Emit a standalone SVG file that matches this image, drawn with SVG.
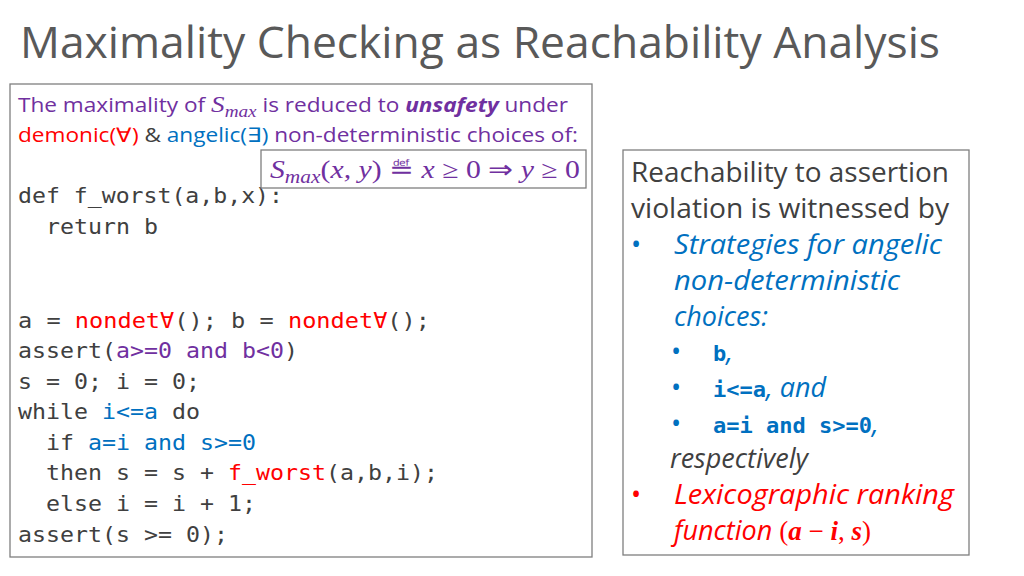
<svg xmlns="http://www.w3.org/2000/svg" width="1024" height="576" viewBox="0 0 1024 576">
<style>
.t{font-family:"Open Sans","Liberation Sans",sans-serif}
.m{font-family:"DejaVu Sans Mono","Liberation Mono",monospace;font-size:22px;fill:#404040}
.p{fill:#7030A0}.r{fill:#FF0000}.b{fill:#0070C0}.g{fill:#404040}
.box{fill:#fff;stroke:#7f7f7f;stroke-width:1.3}
.math{font-family:"Liberation Serif",serif;font-style:italic}
</style>
<rect width="1024" height="576" fill="#fff"/>
<text x="20" y="58" class="t" font-size="43" fill="#595959" textLength="920" lengthAdjust="spacingAndGlyphs">Maximality Checking as Reachability Analysis</text>
<g id="code-box">
<rect class="box" x="10" y="84" width="582" height="473"/>
<text class="t p" x="18" y="112" font-size="20" textLength="550" lengthAdjust="spacingAndGlyphs">The maximality of <tspan class="math" font-size="24">S<tspan font-size="17" dy="5">max</tspan></tspan><tspan dy="-5"> is reduced to </tspan><tspan font-weight="bold" font-style="italic">unsafety</tspan> under</text>
<text class="t" x="18" y="142" font-size="20" textLength="560" lengthAdjust="spacingAndGlyphs"><tspan class="r">demonic(∀)</tspan><tspan class="g"> &amp; </tspan><tspan class="b">angelic(∃)</tspan><tspan class="p"> non-deterministic choices of:</tspan></text>
<g class="m">
<text x="18" y="203" textLength="265" lengthAdjust="spacingAndGlyphs">def f_worst(a,b,x):</text>
<text x="46" y="234" textLength="112" lengthAdjust="spacingAndGlyphs">return b</text>
<text x="18" y="328" textLength="412" lengthAdjust="spacingAndGlyphs">a = <tspan class="r">nondet∀</tspan>(); b = <tspan class="r">nondet∀</tspan>();</text>
<text x="18" y="358" textLength="280" lengthAdjust="spacingAndGlyphs">assert(<tspan class="p">a&gt;=0 and b&lt;0</tspan>)</text>
<text x="18" y="389" textLength="182" lengthAdjust="spacingAndGlyphs">s = 0; i = 0;</text>
<text x="18" y="419" textLength="182" lengthAdjust="spacingAndGlyphs">while <tspan class="b">i&lt;=a</tspan> do</text>
<text x="46" y="450" textLength="210" lengthAdjust="spacingAndGlyphs">if <tspan class="b">a=i and s&gt;=0</tspan></text>
<text x="46" y="480" textLength="392" lengthAdjust="spacingAndGlyphs">then s = s + <tspan class="r">f_worst</tspan>(a,b,i);</text>
<text x="46" y="511" textLength="210" lengthAdjust="spacingAndGlyphs">else i = i + 1;</text>
<text x="18" y="542" textLength="210" lengthAdjust="spacingAndGlyphs">assert(s &gt;= 0);</text>
</g>
</g>
<g id="formula">
<rect class="box" x="261" y="150" width="325" height="38"/>
<text class="math p" x="270" y="178" font-size="25" textLength="310" lengthAdjust="spacingAndGlyphs">S<tspan font-size="18" dy="5">max</tspan><tspan dy="-5" font-style="normal">(</tspan>x, y<tspan font-style="normal">) ≝ </tspan>x <tspan font-style="normal">≥ 0 ⇒ </tspan>y <tspan font-style="normal">≥ 0</tspan></text>
</g>
<g id="witness-box">
<rect class="box" x="623" y="150" width="346" height="405"/>
<g class="t" font-size="27">
<text x="631" y="182" class="g" textLength="318" lengthAdjust="spacingAndGlyphs">Reachability to assertion</text>
<text x="631" y="218" class="g" textLength="318" lengthAdjust="spacingAndGlyphs">violation is witnessed by</text>
<text x="631" y="254" class="b">•</text>
<text x="674" y="254" class="b" font-style="italic" textLength="268" lengthAdjust="spacingAndGlyphs">Strategies for angelic</text>
<text x="674" y="290" class="b" font-style="italic" textLength="226" lengthAdjust="spacingAndGlyphs">non-deterministic</text>
<text x="674" y="326" class="b" font-style="italic">choices:</text>
<text x="671" y="361" class="b">•</text>
<text x="713" y="361" class="b" font-style="italic"><tspan class="m b" font-weight="bold" font-style="normal" font-size="24">b</tspan>,</text>
<text x="671" y="397" class="b">•</text>
<text x="713" y="397" class="b" font-style="italic"><tspan class="m b" font-weight="bold" font-style="normal" font-size="24">i&lt;=a</tspan>, and</text>
<text x="671" y="433" class="b">•</text>
<text x="713" y="433" class="b" font-style="italic"><tspan class="m b" font-weight="bold" font-style="normal" font-size="24">a=i and s&gt;=0</tspan>,</text>
<text x="670" y="468" class="g" font-style="italic">respectively</text>
<text x="631" y="504" class="r">•</text>
<text x="674" y="504" class="r" font-style="italic" textLength="280" lengthAdjust="spacingAndGlyphs">Lexicographic ranking</text>
<text x="674" y="540" class="r" font-style="italic">function <tspan font-family="Liberation Serif" font-style="normal">(</tspan><tspan font-family="Liberation Serif" font-weight="bold">a</tspan><tspan font-family="Liberation Serif" font-style="normal"> − </tspan><tspan font-family="Liberation Serif" font-weight="bold">i</tspan><tspan font-family="Liberation Serif" font-style="normal">, </tspan><tspan font-family="Liberation Serif" font-weight="bold">s</tspan><tspan font-family="Liberation Serif" font-style="normal">)</tspan></text>
</g>
</g>
</svg>
